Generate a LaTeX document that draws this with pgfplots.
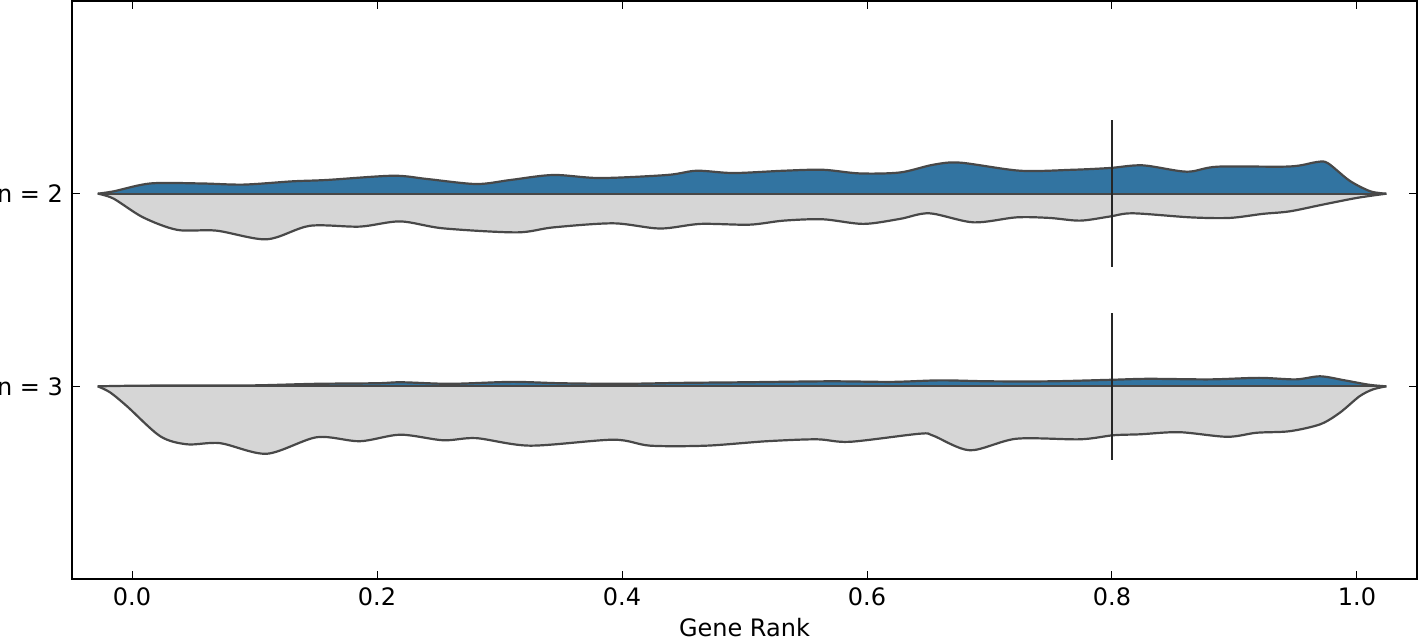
\documentclass[border=0pt]{standalone}
\usepackage{fontspec}
\setmainfont{DejaVu Sans}
\usepackage{pgfplots}
\pgfplotsset{compat=1.18}
\definecolor{vblue}{RGB}{50,116,161}
\definecolor{vgray}{RGB}{214,214,214}
\definecolor{vline}{RGB}{72,72,72}

\begin{document}
\begin{tikzpicture}
\begin{axis}[
    scale only axis,
    width=672.5pt, height=289pt,
    xmin=-0.049, xmax=1.049,
    ymin=0, ymax=3,
    xtick={0,0.2,0.4,0.6,0.8,1.0},
    /pgf/number format/fixed,
    /pgf/number format/fixed zerofill,
    /pgf/number format/precision=1,
    ytick={1,2},
    yticklabels={{n = 3},{n = 2}},
    tick align=inside,
    major tick length=4pt,
    every tick/.style={black, line width=0.5pt},
    axis line style={line width=1pt},
    xlabel={Gene Rank},
    xlabel style={at={(axis description cs:0.5,0)}, anchor=base, yshift=-29pt},
    x tick label style={anchor=base, yshift=-13.5pt},
    y tick label style={xshift=-1pt},
    /pgf/number format/assume math mode=true,
    font=\fontsize{12}{14}\selectfont,
    tick label style={font=\fontsize{12}{14}\selectfont},
    clip=false,
  ]

  % n = 2, lower half (grey)
  \addplot [fill=vgray, draw=vline, line width=1.1pt, smooth, tension=0.5] coordinates {
    (-0.028,2.000) (-0.015,1.974) (0.009,1.877) (0.037,1.812) (0.069,1.808)
    (0.110,1.763) (0.145,1.833) (0.186,1.829) (0.219,1.856) (0.254,1.820)
    (0.314,1.799) (0.344,1.825) (0.393,1.846) (0.431,1.819) (0.464,1.843)
    (0.504,1.839) (0.532,1.860) (0.564,1.867) (0.597,1.843) (0.627,1.869)
    (0.651,1.898) (0.687,1.851) (0.722,1.877) (0.749,1.874) (0.774,1.860)
    (0.798,1.881) (0.817,1.898) (0.864,1.877) (0.896,1.874) (0.923,1.895)
    (0.945,1.908) (0.972,1.943) (1.000,1.978) (1.024,2.000)
  };
  % n = 2, upper half (blue)
  \addplot [fill=vblue, draw=vline, line width=1.1pt, smooth, tension=0.5] coordinates {
    (-0.028,2.000) (-0.015,2.012) (0.015,2.053) (0.056,2.053) (0.091,2.047)
    (0.131,2.064) (0.159,2.071) (0.213,2.093) (0.241,2.076) (0.281,2.050)
    (0.309,2.071) (0.344,2.097) (0.382,2.081) (0.437,2.097) (0.461,2.119)
    (0.491,2.107) (0.532,2.119) (0.564,2.124) (0.594,2.105) (0.627,2.110)
    (0.654,2.150) (0.676,2.161) (0.725,2.119) (0.768,2.124) (0.798,2.133)
    (0.825,2.147) (0.861,2.114) (0.886,2.140) (0.945,2.141) (0.967,2.164)
    (0.976,2.159) (0.994,2.067) (1.011,2.012) (1.024,2.000)
  };
  \addplot [vline, line width=1.1pt] coordinates {(-0.028,2) (1.024,2)};

  % n = 3, lower half (grey)
  \addplot [fill=vgray, draw=vline, line width=1.1pt, smooth, tension=0.5] coordinates {
    (-0.028,1.000) (-0.018,0.969) (-0.004,0.896) (0.023,0.741) (0.045,0.699)
    (0.072,0.705) (0.110,0.650) (0.151,0.736) (0.186,0.715) (0.219,0.749)
    (0.254,0.720) (0.281,0.731) (0.325,0.692) (0.393,0.723) (0.423,0.692)
    (0.469,0.692) (0.518,0.715) (0.559,0.725) (0.586,0.712) (0.643,0.754)
    (0.654,0.744) (0.684,0.668) (0.722,0.728) (0.774,0.725) (0.801,0.746)
    (0.823,0.751) (0.855,0.762) (0.894,0.738) (0.918,0.759) (0.945,0.767)
    (0.970,0.803) (0.986,0.863) (1.002,0.948) (1.013,0.984) (1.024,1.000)
  };
  % n = 3, upper half (blue)
  \addplot [fill=vblue, draw=vline, line width=1.1pt, smooth, tension=0.5] coordinates {
    (-0.028,1.000) (0.000,1.003) (0.050,1.005) (0.100,1.005) (0.150,1.013)
    (0.200,1.016) (0.220,1.021) (0.260,1.013) (0.310,1.023) (0.350,1.016)
    (0.400,1.013) (0.450,1.018) (0.500,1.021) (0.570,1.026) (0.620,1.023)
    (0.660,1.031) (0.700,1.026) (0.750,1.026) (0.800,1.034) (0.830,1.039)
    (0.880,1.036) (0.920,1.044) (0.950,1.036) (0.970,1.052) (0.990,1.031)
    (1.010,1.008) (1.024,1.000)
  };
  \addplot [vline, line width=1.1pt] coordinates {(-0.028,1) (1.024,1)};

  % threshold marks at 0.8
  \addplot [black!85, line width=1pt] coordinates {(0.8,1.62) (0.8,2.38)};
  \addplot [black!85, line width=1pt] coordinates {(0.8,0.62) (0.8,1.38)};
\end{axis}
\pgfresetboundingbox
\path[use as bounding box] ([xshift=-36pt,yshift=-31pt]current axis.south west)
  rectangle ([xshift=1pt,yshift=0.5pt]current axis.north east);
\end{tikzpicture}
\end{document}
